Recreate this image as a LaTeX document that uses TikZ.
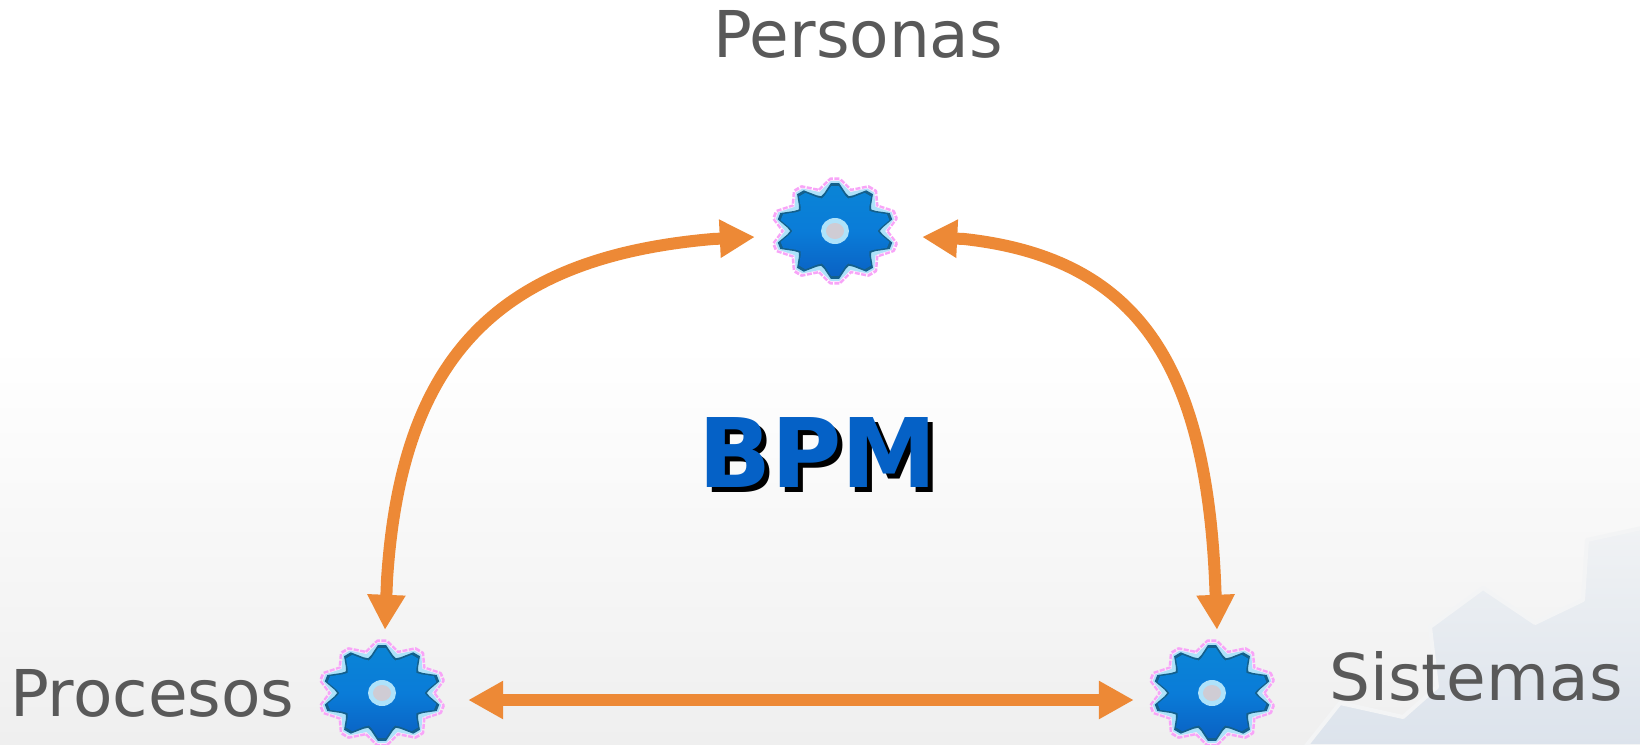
\documentclass[tikz,border=0pt]{standalone}
\usepackage{fontspec}
\setmainfont{DejaVu Sans}
\usetikzlibrary{arrows.meta,calc}
\definecolor{txt}{HTML}{595959}
\definecolor{orangeline}{HTML}{ED8936}
\definecolor{bpmblue}{HTML}{0561C6}
\definecolor{pinkfringe}{HTML}{F8A4F8}
\definecolor{halo}{HTML}{AEE2FA}
\definecolor{toothdark}{HTML}{14608C}
\definecolor{gearhi}{HTML}{0A84D6}
\definecolor{gearmid}{HTML}{0A7CD8}
\definecolor{gearlo}{HTML}{0A62C4}
\definecolor{hubgrey}{HTML}{CFCCD4}
\definecolor{bgbottom}{HTML}{EFEFEF}
\definecolor{palehi}{HTML}{F0F2F4}
\definecolor{palelo}{HTML}{DCE3EC}
\definecolor{paleedge}{HTML}{F3F4F5}
\tikzset{
  x=1pt,y=-1pt,
  label text/.style={text=txt,font=\fontsize{64.5}{64.5}\selectfont,inner sep=0pt,anchor=base west},
  bpm text/.style={font=\bfseries\fontsize{96}{96}\selectfont,inner sep=0pt,anchor=base west},
  link/.style={line width=12pt,draw=orangeline,line join=round,{Triangle[length=35pt,width=36pt,fill=orangeline]}-{Triangle[length=35pt,width=36pt,fill=orangeline]}},
  gearslot/.style={minimum width=124pt,minimum height=104pt,inner sep=0pt,draw=none},
  gearpic/.pic={
    \def\gearpath##1##2##3{
      (86:##1 and ##2)
      \foreach \i in {0,...,9}{
        -- ({90+36*\i+4}:##1 and ##2)
        -- ({90+36*\i+13}:{##1*(##3+0.05)} and {##2*(##3+0.05)})
        -- ({90+36*\i+18}:{##1*##3} and {##2*##3})
        -- ({90+36*\i+23}:{##1*(##3+0.05)} and {##2*(##3+0.05)})
        -- ({90+36*\i+32}:##1 and ##2)
      } -- cycle}
    \draw[pinkfringe,line width=3.5pt,dash pattern=on 5pt off 1.5pt,line join=round] \gearpath{63}{52}{0.82};
    \fill[white!70!pinkfringe] \gearpath{62}{51}{0.82};
    \fill[halo] \gearpath{61}{50}{0.82};
    \fill[toothdark] \gearpath{59}{48}{0.76};
    \shade[top color=gearhi,bottom color=gearlo,middle color=gearmid] \gearpath{56}{45}{0.76};
    \fill[halo] (0,0) circle[x radius=14,y radius=13];
    \fill[hubgrey] (0,0) circle[x radius=9,y radius=8];
  }
}
\begin{document}
\begin{tikzpicture}
\useasboundingbox (0,0) rectangle (1640,744);
% background
\fill[white] (0,0) rectangle (1640,345);
\shade[top color=white,bottom color=bgbottom] (0,345) rectangle (1640,744);
% pale gear in the corner
\shade[top color=palehi,bottom color=palelo,draw=paleedge,line width=4pt,line join=round]
  (1306,746) -- (1340,703) -- (1403,717) -- (1437,687) -- (1430,627) -- (1483,588) -- (1535,623) -- (1583,600) -- (1587,540) -- (1642,528) -- (1642,746) -- cycle;
% gears
\node[gearslot] (top) at (835,231) {};
\node[gearslot] (left) at (382,693) {};
\node[gearslot] (right) at (1212,693) {};
\pic at (top) {gearpic};
\pic at (left) {gearpic};
\pic at (right) {gearpic};
% labels
\node[label text] (personas) at (713,57) {Personas};
\node[label text] (procesos) at (10,716) {Procesos};
\node[label text] (sistemas) at (1329,700) {Sistemas};
\node[bpm text,text=black] (bpmshadow) at (703,492) {BPM};
\node[bpm text,text=bpmblue] (bpm) at (698,487) {BPM};
% connectors
\coordinate (topL) at ($(top.west)+(-18,6)$);
\coordinate (topLb) at ($(topL)+(-42,2)$);
\coordinate (topR) at ($(top.east)+(25,6)$);
\coordinate (topRb) at ($(topR)+(42,2)$);
\coordinate (leftT) at ($(left.north)+(3,-11)$);
\coordinate (leftTb) at ($(leftT)+(2,-50)$);
\coordinate (rightT) at ($(right.north)+(5,-11)$);
\coordinate (rightTb) at ($(rightT)+(-2,-50)$);
\coordinate (leftR) at ($(left.east)+(24,7)$);
\coordinate (rightL) at ($(right.west)+(-16,7)$);
\draw[link] (topL) -- (topLb) .. controls (493,258) and (401,362) .. (leftTb) -- (leftT);
\draw[link] (topR) -- (topRb) .. controls (1136,258) and (1205,362) .. (rightTb) -- (rightT);
\draw[link] (leftR) -- (rightL);
\end{tikzpicture}
\end{document}
